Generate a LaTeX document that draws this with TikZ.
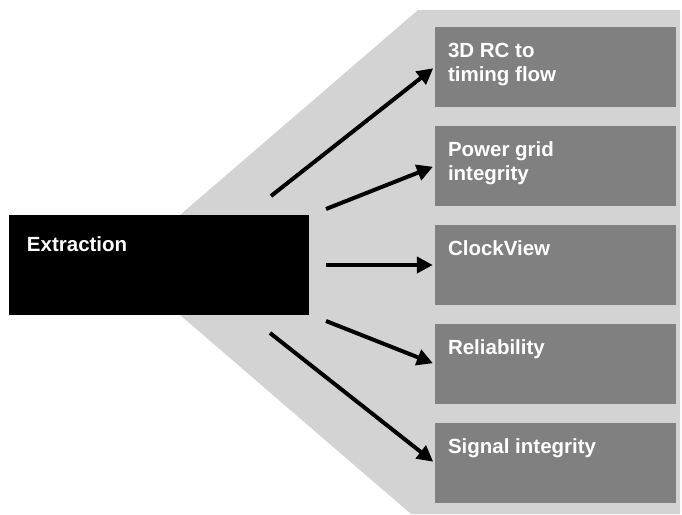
\documentclass[tikz,border=0pt]{standalone}
\usepackage{fontspec}
\setmainfont{Liberation Sans}
\usepackage{xcolor}
\usepackage{tikz}
\usetikzlibrary{arrows.meta}
\definecolor{text}{HTML}{FFFFFF}
\definecolor{fan}{HTML}{D3D3D3}
\definecolor{tool}{HTML}{808080}
\tikzset{
  fanShape/.style={fill=fan, draw=none},
  srcBox/.style={fill=black, minimum width=300pt, minimum height=100pt, inner sep=0pt},
  toolBox/.style={fill=tool, minimum width=241pt, minimum height=80pt, inner sep=0pt},
  boxText/.style={text=text, font=\bfseries\fontsize{20.5}{24}\selectfont, align=left, inner sep=0pt, anchor=north west},
  arr/.style={-{Triangle[length=16pt,width=16pt]}, draw=black, line width=4pt, shorten >=2pt}
}
\begin{document}
\begin{tikzpicture}[x=1pt, y=-1pt]
  \useasboundingbox (0,0) rectangle (682,514);

  % fan behind the boxes
  \fill[fanShape] (122,265) -- (418,10) -- (680,10) -- (680,514) -- (411,514) -- cycle;

  \node[srcBox, label={[boxText, xshift=18pt, yshift=-22pt]north west:Extraction}] (ext) at (159,265) {};

  \node[toolBox, label={[boxText, xshift=13pt, yshift=-16pt]north west:{3D RC to\\timing flow}}] (rc) at (555.5,67) {};
  \node[toolBox, label={[boxText, xshift=13pt, yshift=-16pt]north west:{Power grid\\integrity}}] (pg) at (555.5,166) {};
  \node[toolBox, label={[boxText, xshift=13pt, yshift=-16pt]north west:ClockView}] (cv) at (555.5,265) {};
  \node[toolBox, label={[boxText, xshift=13pt, yshift=-16pt]north west:Reliability}] (rel) at (555.5,364) {};
  \node[toolBox, label={[boxText, xshift=13pt, yshift=-16pt]north west:Signal integrity}] (si) at (555.5,463) {};

  \coordinate (a1) at (271,196);
  \coordinate (a2) at (326,209);
  \coordinate (a3) at (326,265);
  \coordinate (a4) at (326,321);
  \coordinate (a5) at (270,333);

  \draw[arr] (a1) -- (rc.west);
  \draw[arr] (a2) -- (pg.west);
  \draw[arr] (a3) -- (cv.west);
  \draw[arr] (a4) -- (rel.west);
  \draw[arr] (a5) -- (si.west);
\end{tikzpicture}
\end{document}
